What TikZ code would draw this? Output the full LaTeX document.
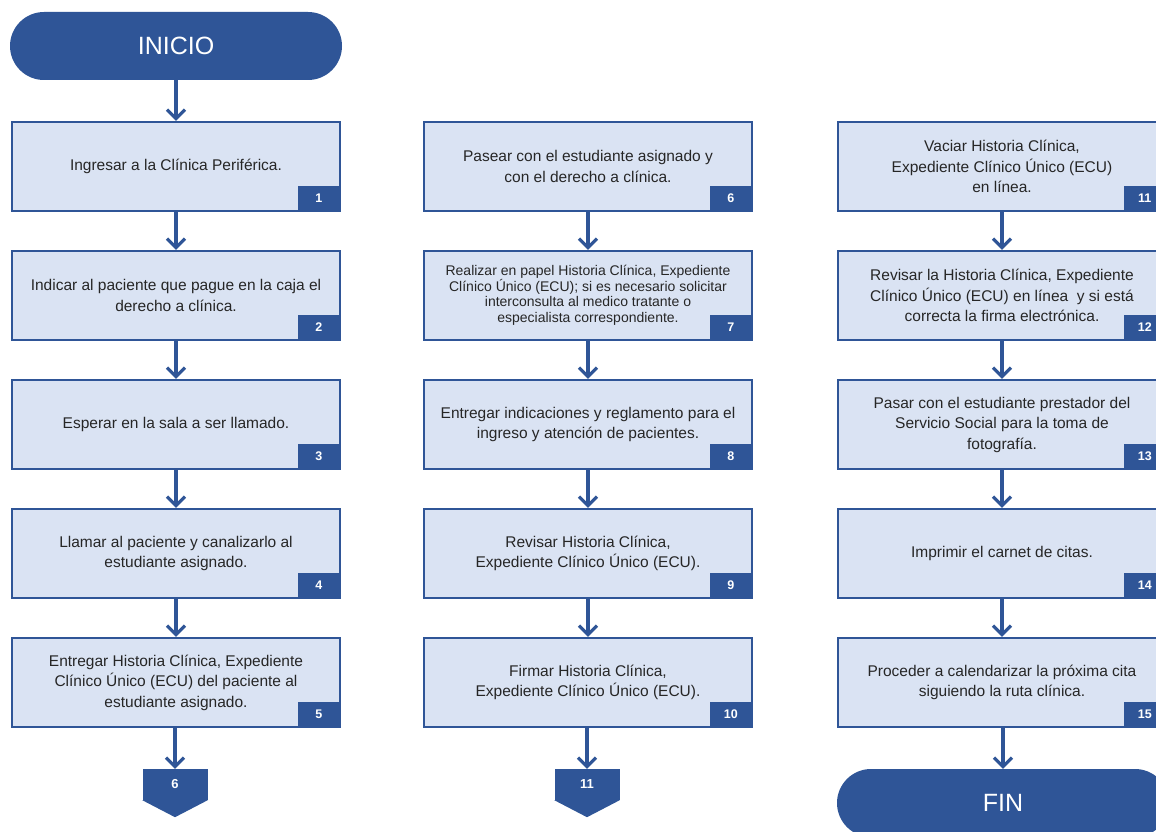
\documentclass[tikz,border=0pt]{standalone}
\usepackage{fontspec}
\setmainfont{Liberation Sans}
\usetikzlibrary{arrows.meta,calc}
\definecolor{dblue}{HTML}{2F5597}
\definecolor{lblue}{HTML}{DAE3F3}
\definecolor{txt}{HTML}{262626}
\begin{document}
\begin{tikzpicture}[x=1pt,y=-1pt,
  stepbox/.style={draw=dblue,fill=lblue,line width=2.4pt,minimum width=328pt,minimum height=89pt,inner sep=0pt,align=center,text=txt,font=\fontsize{15.5}{20.5}\selectfont},
  smallbox/.style={stepbox,font=\fontsize{14}{15.5}\selectfont},
  tag/.style={fill=dblue,text=white,font=\bfseries\fontsize{12.5}{14}\selectfont,minimum width=42pt,minimum height=25pt,inner sep=0pt,anchor=south east},
  term/.style={fill=dblue,text=white,minimum width=332pt,minimum height=68pt,rounded corners=34pt,inner sep=0pt,font=\fontsize{25}{30}\selectfont},
  flow/.style={draw=dblue,line width=3.2pt,-{Straight Barb[length=9pt,width=18pt]}},
  offp/.style={fill=dblue,text=white,font=\bfseries\fontsize{13}{15}\selectfont,minimum width=65pt,minimum height=31pt,inner sep=0pt}]
\clip (0,0) rectangle (1156,832);
\fill[white] (0,0) rectangle (1156,832);

% terminals
\node[term] (ini) at (176,46) {INICIO};
\node[term] (fin) at (1003,803) {FIN};

% column 1
\node[stepbox] (b1) at (176,166.5) {Ingresar a la Clínica Periférica.};
\node[stepbox] (b2) at (176,295.5) {Indicar al paciente que pague en la caja el\\derecho a clínica.};
\node[stepbox] (b3) at (176,424.5) {Esperar en la sala a ser llamado.};
\node[stepbox] (b4) at (176,553.5) {Llamar al paciente y canalizarlo al\\estudiante asignado.};
\node[stepbox] (b5) at (176,682.5) {Entregar Historia Clínica, Expediente\\Clínico Único (ECU) del paciente al\\estudiante asignado.};

% column 2
\node[stepbox] (b6) at (588,166.5) {Pasear con el estudiante asignado y\\con el derecho a clínica.};
\node[smallbox] (b7) at (588,295.5) {Realizar en papel Historia Clínica, Expediente\\Clínico Único (ECU); si es necesario solicitar\\interconsulta al medico tratante o\\especialista correspondiente.};
\node[stepbox] (b8) at (588,424.5) {Entregar indicaciones y reglamento para el\\ingreso y atención de pacientes.};
\node[stepbox] (b9) at (588,553.5) {Revisar Historia Clínica,\\Expediente Clínico Único (ECU).};
\node[stepbox] (b10) at (588,682.5) {Firmar Historia Clínica,\\Expediente Clínico Único (ECU).};

% column 3
\node[stepbox] (b11) at (1002,166.5) {Vaciar Historia Clínica,\\Expediente Clínico Único (ECU)\\en línea.};
\node[stepbox] (b12) at (1002,295.5) {Revisar la Historia Clínica, Expediente\\Clínico Único (ECU) en línea \ y si está\\correcta la firma electrónica.};
\node[stepbox] (b13) at (1002,424.5) {Pasar con el estudiante prestador del\\Servicio Social para la toma de\\fotografía.};
\node[stepbox] (b14) at (1002,553.5) {Imprimir el carnet de citas.};
\node[stepbox] (b15) at (1002,682.5) {Proceder a calendarizar la próxima cita\\siguiendo la ruta clínica.};

% number tags
\foreach \i in {1,...,15}{
  \node[tag] (t\i) at ($(b\i.south east)+(-1.2,-1.2)$) {\i};
}

% off-page connectors
\node[offp] (o6) at (175,784.5) {6};
\fill[dblue] (o6.south west) -- (o6.south east) -- ($(o6.south)+(0,17)$) -- cycle;
\node[offp] (o11) at (587,784.5) {11};
\fill[dblue] (o11.south west) -- (o11.south east) -- ($(o11.south)+(0,17)$) -- cycle;

% connectors
\draw[flow] (ini) -- (b1);
\draw[flow] (b1) -- (b2);
\draw[flow] (b2) -- (b3);
\draw[flow] (b3) -- (b4);
\draw[flow] (b4) -- (b5);
\draw[flow] (b5.south -| o6.north) -- (o6.north);
\draw[flow] (b6) -- (b7);
\draw[flow] (b7) -- (b8);
\draw[flow] (b8) -- (b9);
\draw[flow] (b9) -- (b10);
\draw[flow] (b10.south -| o11.north) -- (o11.north);
\draw[flow] (b11) -- (b12);
\draw[flow] (b12) -- (b13);
\draw[flow] (b13) -- (b14);
\draw[flow] (b14) -- (b15);
\draw[flow] (b15.south -| fin.north) -- (fin.north);
\end{tikzpicture}
\end{document}
